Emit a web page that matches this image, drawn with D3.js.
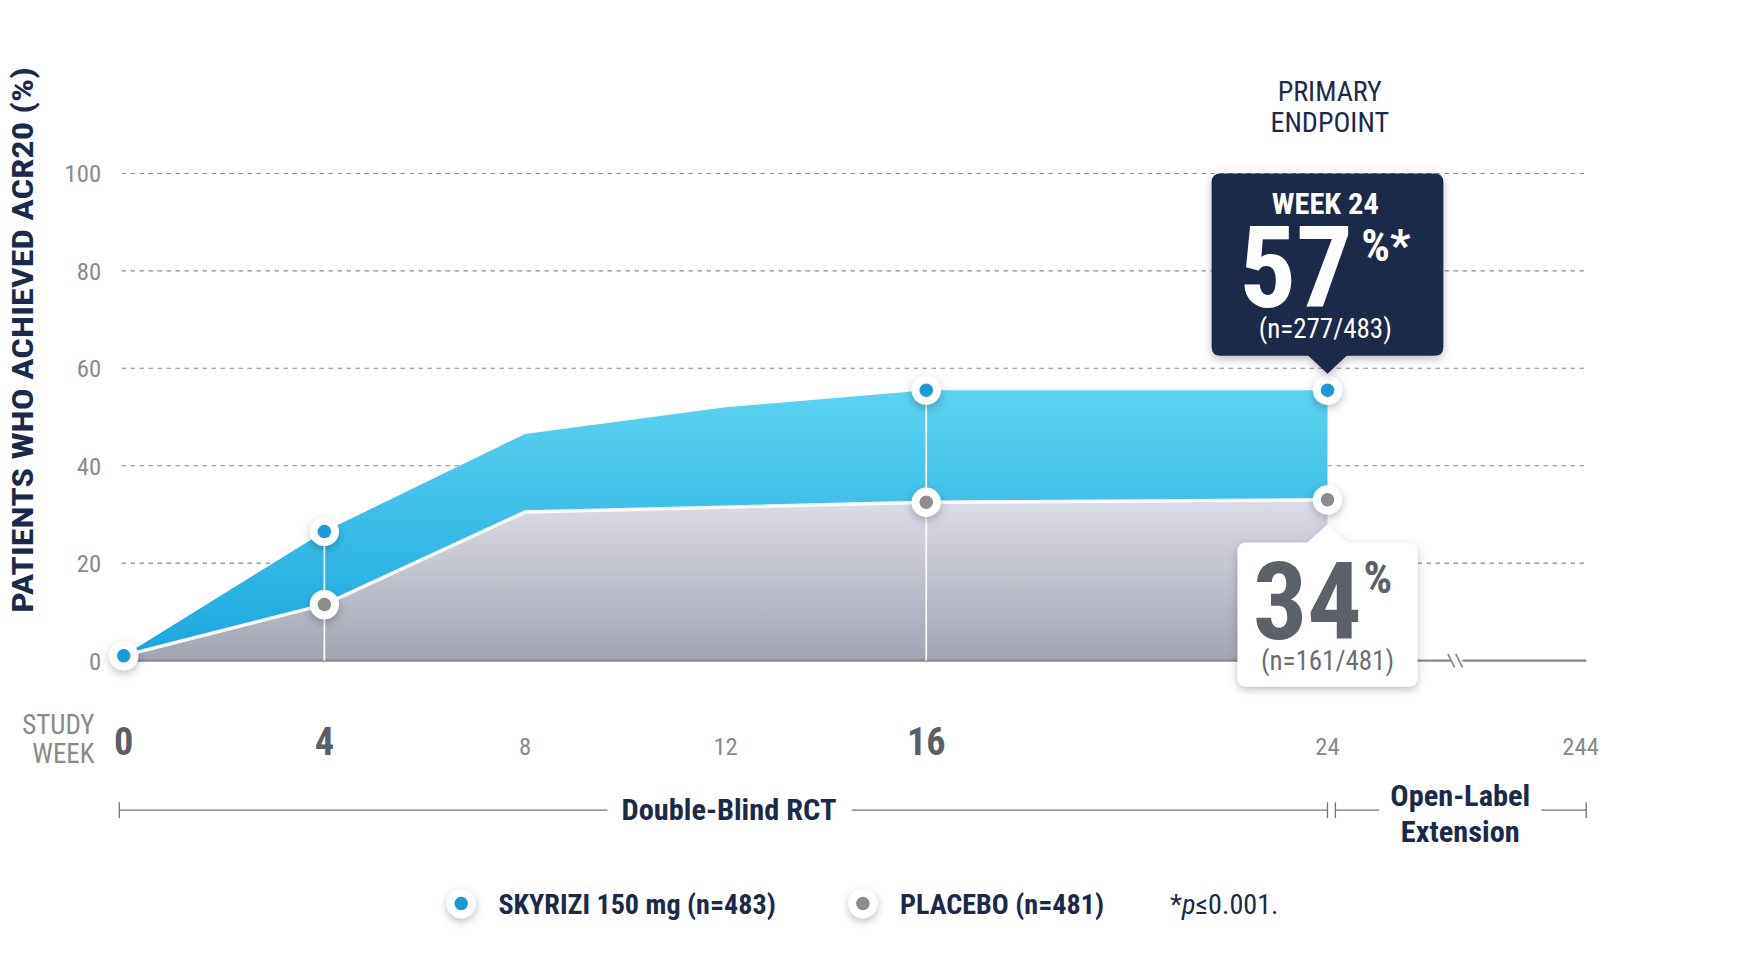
<!DOCTYPE html>
<html><head><meta charset="utf-8">
<script src="https://cdn.jsdelivr.net/npm/d3@7"></script>
<style>body{margin:0;background:#fff}svg{display:block}text{font-family:"Roboto Condensed","Liberation Sans Narrow",Roboto,sans-serif}</style>
</head><body>
<script>
// -- data --
var weeks = [0, 4, 8, 12, 16, 24];
var skyrizi = [1, 26.5, 46.5, 52, 55.5, 55.5];
var placebo = [1, 11.5, 30.5, 31.5, 32.5, 33];
var markWeeks = [0, 4, 16, 24];
var yTicks = [0, 20, 40, 60, 80, 100];
var xTickLabels = ["0", "4", "8", "12", "16", "24", "244"];

var navy = "#1b2a4a";
var svg = d3.select("body").append("svg")
  .attr("width", 1764).attr("height", 960)
  .attr("viewBox", "0 0 1568 853");

var x = d3.scaleLinear().domain([0, 24]).range([110, 1180]);
var xEnd = 1410;
var y = d3.scaleLinear().domain([0, 100]).range([587, 154]);

var defs = svg.append("defs");
var gb = defs.append("linearGradient").attr("id", "gb").attr("x1", 0).attr("x2", 0).attr("y1", 0).attr("y2", 1);
gb.append("stop").attr("offset", "0%").attr("stop-color", "#5dd3f0");
gb.append("stop").attr("offset", "100%").attr("stop-color", "#1aa7de");
var gg = defs.append("linearGradient").attr("id", "gg").attr("x1", 0).attr("x2", 0).attr("y1", 0).attr("y2", 1);
gg.append("stop").attr("offset", "0%").attr("stop-color", "#dcdde8");
gg.append("stop").attr("offset", "100%").attr("stop-color", "#a2a4b2");
var sh = defs.append("filter").attr("id", "sh").attr("x", "-50%").attr("y", "-50%").attr("width", "200%").attr("height", "200%");
sh.append("feDropShadow").attr("dx", 0).attr("dy", 3).attr("stdDeviation", 4).attr("flood-color", "#000").attr("flood-opacity", 0.25);

// gridlines
svg.selectAll(".grid").data(yTicks.slice(1)).enter().append("line")
  .attr("x1", 108).attr("x2", xEnd).attr("y1", y).attr("y2", y)
  .attr("stroke", "#8a8a8a").attr("stroke-dasharray", "4,4").attr("stroke-width", 1);
svg.selectAll(".yl").data(yTicks).enter().append("text")
  .attr("x", 90).attr("y", function(d){ return y(d) + 8; }).attr("text-anchor", "end")
  .attr("font-size", 22).attr("fill", "#8a8a8a").text(function(d){ return d; });

svg.append("text").attr("transform", "translate(29,302) rotate(-90)").attr("text-anchor", "middle")
  .attr("font-size", 27).attr("font-weight", "bold").attr("fill", navy)
  .attr("textLength", 485).attr("lengthAdjust", "spacingAndGlyphs")
  .text("PATIENTS WHO ACHIEVED ACR20 (%)");

var area = d3.area().x(function(d, i){ return x(weeks[i]); });
var idx = weeks.map(function(d, i){ return i; });
svg.append("path").datum(idx)
  .attr("d", area.y0(function(i){ return y(placebo[i]); }).y1(function(i){ return y(skyrizi[i]); }))
  .attr("fill", "url(#gb)");
svg.append("path").datum(idx)
  .attr("d", d3.area().x(function(i){ return x(weeks[i]); }).y0(y(0)).y1(function(i){ return y(placebo[i]); }))
  .attr("fill", "url(#gg)");
svg.append("path").datum(idx)
  .attr("d", d3.line().x(function(i){ return x(weeks[i]); }).y(function(i){ return y(placebo[i]); }))
  .attr("fill", "none").attr("stroke", "#fff").attr("stroke-width", 3);

// axis line with break
svg.append("line").attr("x1", 110).attr("x2", 1290).attr("y1", y(0)).attr("y2", y(0)).attr("stroke", "#888").attr("stroke-width", 2);
svg.append("line").attr("x1", 1300).attr("x2", xEnd).attr("y1", y(0)).attr("y2", y(0)).attr("stroke", "#888").attr("stroke-width", 2);
[1290, 1297].forEach(function(bx){
  svg.append("line").attr("x1", bx - 3).attr("x2", bx + 3).attr("y1", y(0) - 6).attr("y2", y(0) + 6).attr("stroke", "#888").attr("stroke-width", 1.5);
});

// vertical guide lines
svg.selectAll(".vl").data([4, 16]).enter().append("line")
  .attr("x1", x).attr("x2", x)
  .attr("y1", function(w){ return y(skyrizi[weeks.indexOf(w)]); }).attr("y2", y(0))
  .attr("stroke", "#fff").attr("stroke-width", 1.5);

// markers
function marker(cx, cy, col){
  svg.append("circle").attr("cx", cx).attr("cy", cy).attr("r", 13).attr("fill", "#fff").attr("filter", "url(#sh)");
  svg.append("circle").attr("cx", cx).attr("cy", cy).attr("r", 6).attr("fill", col);
}
markWeeks.forEach(function(w){
  var i = weeks.indexOf(w);
  if (w > 0) marker(x(w), y(placebo[i]), "#8c8c8c");
  marker(x(w), y(skyrizi[i]), "#1b9ad8");
});

// x tick labels
var tickX = [0, 4, 8, 12, 16, 24].map(x).concat([1405]);
svg.selectAll(".xl").data(xTickLabels).enter().append("text")
  .attr("x", function(d, i){ return tickX[i]; }).attr("y", 671).attr("text-anchor", "middle")
  .attr("font-size", function(d){ return (d === "0" || d === "4" || d === "16") ? 34 : 22; })
  .attr("font-weight", function(d){ return (d === "0" || d === "4" || d === "16") ? "bold" : "normal"; })
  .attr("fill", function(d){ return (d === "0" || d === "4" || d === "16") ? "#5b6068" : "#8a8a8a"; })
  .text(function(d){ return d; });
svg.append("text").attr("x", 84).attr("y", 652).attr("text-anchor", "end").attr("font-size", 24).attr("fill", "#8a8a8a").text("STUDY");
svg.append("text").attr("x", 84).attr("y", 678).attr("text-anchor", "end").attr("font-size", 24).attr("fill", "#8a8a8a").text("WEEK");

// period brackets
function seg(x1, x2){ svg.append("line").attr("x1", x1).attr("x2", x2).attr("y1", 720).attr("y2", 720).attr("stroke", "#777").attr("stroke-width", 1.2); }
seg(106, 540); seg(757, 1180); seg(1187, 1226); seg(1370, 1410);
[106, 1180, 1187, 1410].forEach(function(tx){
  svg.append("line").attr("x1", tx).attr("x2", tx).attr("y1", 713).attr("y2", 727).attr("stroke", "#777").attr("stroke-width", 1.2);
});
svg.append("text").attr("x", 648).attr("y", 729).attr("text-anchor", "middle").attr("font-size", 27).attr("font-weight", "bold").attr("fill", navy).text("Double-Blind RCT");
svg.append("text").attr("x", 1298).attr("y", 716).attr("text-anchor", "middle").attr("font-size", 27).attr("font-weight", "bold").attr("fill", navy).text("Open-Label");
svg.append("text").attr("x", 1298).attr("y", 748).attr("text-anchor", "middle").attr("font-size", 27).attr("font-weight", "bold").attr("fill", navy).text("Extension");

// primary endpoint
svg.append("text").attr("x", 1182).attr("y", 90).attr("text-anchor", "middle").attr("font-size", 25).attr("fill", navy).text("PRIMARY");
svg.append("text").attr("x", 1182).attr("y", 117).attr("text-anchor", "middle").attr("font-size", 25).attr("fill", navy).text("ENDPOINT");

// skyrizi callout
var bx = x(24);
svg.append("path").attr("d", "M" + (bx - 95) + ",154 h190 q8,0 8,8 v146 q0,8 -8,8 h-78 l-17,16 l-17,-16 h-78 q-8,0 -8,-8 v-146 q0,-8 8,-8 z")
  .attr("fill", navy).attr("filter", "url(#sh)");
svg.append("text").attr("x", bx - 2).attr("y", 190).attr("text-anchor", "middle").attr("font-size", 27).attr("font-weight", "bold").attr("fill", "#fff").text("WEEK 24");
svg.append("text").attr("x", bx - 28).attr("y", 273).attr("text-anchor", "middle").attr("font-size", 100).attr("font-weight", "bold").attr("fill", "#fff").text("57");
svg.append("text").attr("x", bx + 30).attr("y", 232).attr("font-size", 40).attr("font-weight", "bold").attr("fill", "#fff").text("%*");
svg.append("text").attr("x", bx - 2).attr("y", 300).attr("text-anchor", "middle").attr("font-size", 24).attr("fill", "#fff").text("(n=277/483)");

// placebo callout
svg.append("path").attr("d", "M" + (bx - 72) + ",482 h54 l18,-16 l18,16 h54 q8,0 8,8 v112 q0,8 -8,8 h-144 q-8,0 -8,-8 v-112 q0,-8 8,-8 z")
  .attr("fill", "#fff").attr("filter", "url(#sh)");
svg.append("text").attr("x", bx - 18).attr("y", 568).attr("text-anchor", "middle").attr("font-size", 96).attr("font-weight", "bold").attr("fill", "#5c6169").text("34");
svg.append("text").attr("x", bx + 32).attr("y", 527).attr("font-size", 40).attr("font-weight", "bold").attr("fill", "#5c6169").text("%");
svg.append("text").attr("x", bx).attr("y", 595).attr("text-anchor", "middle").attr("font-size", 24).attr("fill", "#6a6e75").text("(n=161/481)");

// legend
function legendItem(lx, col, label){
  svg.append("circle").attr("cx", lx).attr("cy", 803).attr("r", 13).attr("fill", "#fff").attr("filter", "url(#sh)");
  svg.append("circle").attr("cx", lx).attr("cy", 803).attr("r", 6).attr("fill", col);
  svg.append("text").attr("x", lx + 33).attr("y", 812).attr("font-size", 25).attr("font-weight", "bold").attr("fill", navy).text(label);
}
legendItem(410, "#1b9ad8", "SKYRIZI 150 mg (n=483)");
legendItem(767, "#8c8c8c", "PLACEBO (n=481)");
var fn = svg.append("text").attr("x", 1040).attr("y", 812).attr("font-size", 25).attr("fill", navy);
fn.append("tspan").text("*");
fn.append("tspan").attr("font-style", "italic").text("p");
fn.append("tspan").text("≤0.001.");
</script>
</body></html>
